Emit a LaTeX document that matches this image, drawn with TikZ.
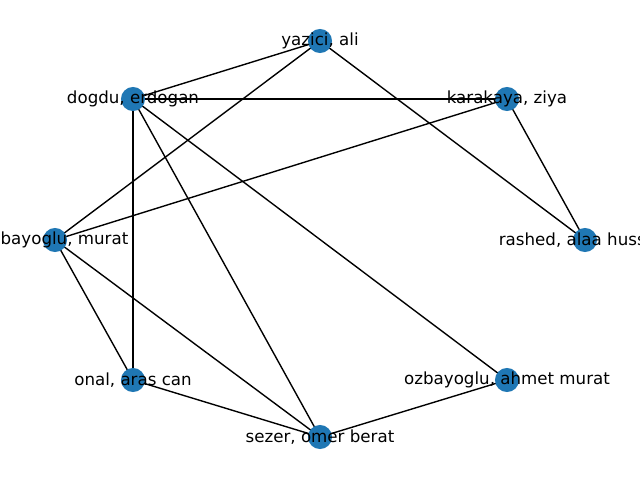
\documentclass[tikz,border=0pt]{standalone}
\usepackage{fontspec}
\setmainfont{DejaVu Sans}
\definecolor{nodeblue}{HTML}{1F77B4}
\tikzset{
  vtx/.style={circle, fill=nodeblue, draw=none, minimum size=17.3pt, inner sep=0pt},
  lbl/.style={font=\fontsize{12pt}{14pt}\selectfont, text=black, inner sep=0pt},
  edge/.style={draw=black, line width=1pt}
}
\begin{document}
\begin{tikzpicture}[x=0.72pt, y=-0.72pt]
\useasboundingbox (0,0) rectangle (640,480);
\clip (0,0) rectangle (640,480);
\fill[white] (0,0) rectangle (640,480);
\coordinate (ya) at (320,41);
\coordinate (dd) at (133,99);
\coordinate (kz) at (507,99);
\coordinate (om) at (55,240);
\coordinate (ra) at (585,240);
\coordinate (oa) at (133,380);
\coordinate (oam) at (507,380);
\coordinate (se) at (320,437);
\foreach \a/\b in {ya/dd, ya/om, ya/ra, dd/kz, dd/oa, dd/se, dd/oam, kz/om, kz/ra, om/oa, om/se, oa/se, se/oam}
  \draw[edge] (\a) -- (\b);
\foreach \c in {ya,dd,kz,om,ra,oa,oam,se}
  \node[vtx] (n\c) at (\c) {};
\node[lbl] (tya) at (ya) {yazici, ali};
\node[lbl] (tdd) at (dd) {dogdu, erdogan};
\node[lbl] (tkz) at (kz) {karakaya, ziya};
\node[lbl] (tom) at (om) {ozbayoglu, murat};
\node[lbl] (tra) at (ra) {rashed, alaa hussein};
\node[lbl] (toa) at (oa) {onal, aras can};
\node[lbl] (toam) at (oam) {ozbayoglu, ahmet murat};
\node[lbl] (tse) at (se) {sezer, omer berat};
\end{tikzpicture}
\end{document}
